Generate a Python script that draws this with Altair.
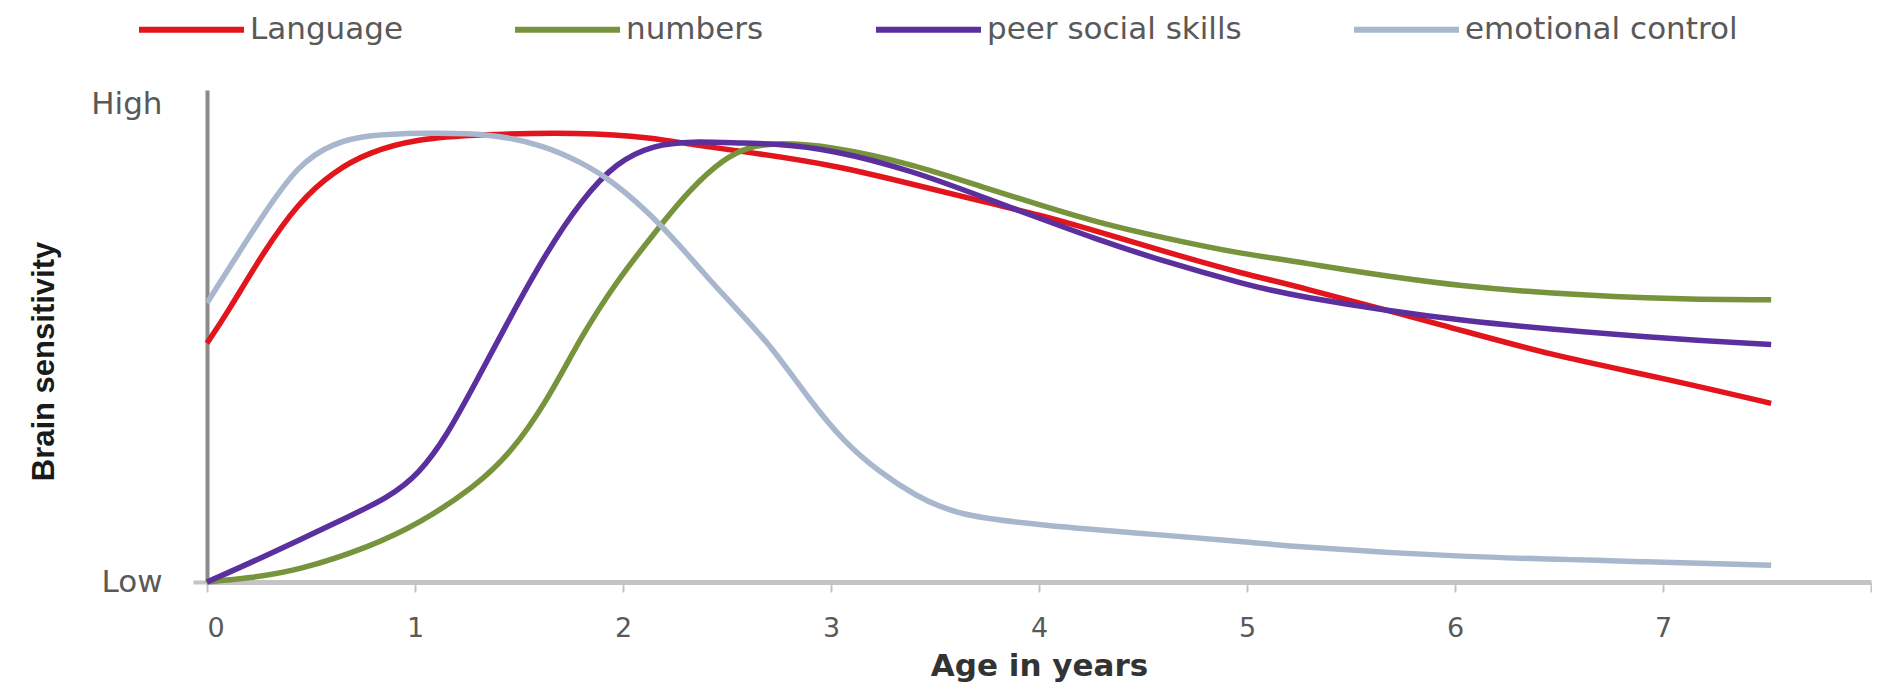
import altair as alt
import pandas as pd

series_names = ["Language", "numbers", "peer social skills", "emotional control"]
series_colors = ["#E2141C", "#77933C", "#5B2F9E", "#A8B7CE"]

language_x = [0, 0.1, 0.27, 0.44, 0.61, 0.78, 1.0, 1.3, 1.8, 2.15, 2.32, 2.6, 3.0,
              3.4, 3.75, 4.0, 4.25, 4.6, 5.0, 5.2, 6.0, 6.45, 7.0, 7.52]
language_y = [0.50, 0.565, 0.69, 0.795, 0.86, 0.90, 0.927, 0.937, 0.942, 0.93, 0.916,
              0.90, 0.874, 0.832, 0.794, 0.769, 0.738, 0.692, 0.643, 0.624, 0.531,
              0.476, 0.427, 0.374]

numbers_x = [0, 0.2, 0.44, 0.78, 1.02, 1.29, 1.46, 1.63, 1.8, 1.97, 2.15, 2.32, 2.49,
             2.6, 2.72, 3.0, 3.4, 3.74, 4.0, 4.26, 4.6, 5.0, 5.2, 6.0, 7.0, 7.52]
numbers_y = [0, 0.008, 0.024, 0.073, 0.122, 0.20, 0.270, 0.375, 0.515, 0.63, 0.730,
             0.822, 0.888, 0.910, 0.92, 0.913, 0.874, 0.825, 0.79, 0.755, 0.72,
             0.685, 0.674, 0.615, 0.591, 0.591]

peer_x = [0, 0.27, 0.61, 0.88, 1.02, 1.15, 1.29, 1.46, 1.63, 1.8, 1.97, 2.15, 2.32,
          2.6, 2.72, 3.0, 3.4, 3.74, 4.0, 4.26, 4.6, 5.0, 5.2, 6.0, 7.0, 7.52]
peer_y = [0, 0.052, 0.122, 0.178, 0.227, 0.304, 0.416, 0.556, 0.689, 0.80, 0.880,
          0.915, 0.923, 0.918, 0.918, 0.906, 0.86, 0.804, 0.762, 0.72, 0.671, 0.622,
          0.601, 0.545, 0.51, 0.497]

emotional_x = [0, 0.27, 0.44, 0.61, 0.78, 1.02, 1.36, 1.63, 1.8, 1.94, 2.18, 2.4,
               2.55, 2.72, 2.89, 3.06, 3.23, 3.4, 3.6, 4.0, 4.6, 5.0, 5.2, 6.0, 7.0,
               7.52]
emotional_y = [0.584, 0.77, 0.875, 0.92, 0.936, 0.94, 0.94, 0.913, 0.878, 0.843,
               0.752, 0.64, 0.57, 0.49, 0.385, 0.294, 0.231, 0.182, 0.14, 0.119,
               0.098, 0.084, 0.075, 0.052, 0.042, 0.035]

x_ticks = [0, 1, 2, 3, 4, 5, 6, 7, 8]
y_ticks = [0, 1]
y_labels = ["Low", "High"]

rows = []
for name, xs, ys in zip(series_names,
                        [language_x, numbers_x, peer_x, emotional_x],
                        [language_y, numbers_y, peer_y, emotional_y]):
    for i, (a, b) in enumerate(zip(xs, ys)):
        rows.append({"series": name, "age": a, "sens": b, "order": i})
df = pd.DataFrame(rows)

label_expr_y = "datum.value == 1 ? '%s' : '%s'" % (y_labels[1], y_labels[0])

chart = alt.Chart(df).mark_line(strokeWidth=5.5, interpolate="basis").encode(
    x=alt.X(
        "age:Q",
        scale=alt.Scale(domain=[0, 8], nice=False, zero=False),
        axis=alt.Axis(
            values=x_ticks,
            title="Age in years",
            labelExpr="datum.value == 8 ? '' : datum.label",
            grid=False,
            domainColor="#C4C4C4",
            domainWidth=5,
            tickColor="#C4C4C4",
            tickWidth=2,
            tickSize=10,
            labelFont="DejaVu Sans",
            labelFontSize=27,
            labelColor="#595959",
            labelPadding=23,
            titleFont="DejaVu Sans",
            titleFontWeight="bold",
            titleFontSize=31,
            titleColor="#333333",
            titlePadding=10,
        ),
    ),
    y=alt.Y(
        "sens:Q",
        scale=alt.Scale(domain=[0, 1.03], nice=False),
        axis=alt.Axis(
            values=y_ticks,
            labelExpr=label_expr_y,
            title="Brain sensitivity",
            grid=False,
            domainColor="#8A8A8A",
            domainWidth=4,
            tickColor={"condition": {"test": "datum.value == 0", "value": "#C4C4C4"},
                       "value": "rgba(0,0,0,0)"},
            tickWidth=4,
            tickSize=14,
            labelFont="DejaVu Sans",
            labelFontSize=31,
            labelColor="#595959",
            labelPadding=31,
            titleFont="Liberation Sans",
            titleFontWeight="bold",
            titleFontSize=31,
            titleColor="#1A1A1A",
            titlePadding=30,
            titleY=271,
        ),
    ),
    color=alt.Color(
        "series:N",
        scale=alt.Scale(domain=series_names, range=series_colors),
        legend=alt.Legend(
            title=None,
            orient="none",
            legendX=-71,
            legendY=-116,
            direction="horizontal",
            columns=4,
            gridAlign="each",
            symbolType="stroke",
            symbolSize=11025,
            symbolStrokeWidth=6,
            labelFont="DejaVu Sans",
            labelFontSize=31,
            labelLimit=600,
            labelColor="#595959",
            labelOffset=3,
            columnPadding=100,
            padding=0,
        ),
    ),
    order="order:Q",
).properties(
    width=1664,
    height=492,
    padding={"left": 199, "top": 82, "right": 1, "bottom": 104},
    autosize=alt.AutoSizeParams(type="none"),
    background="white",
).configure_view(stroke=None)

chart.save("out.html", embed_options={"renderer": "svg", "actions": False})
